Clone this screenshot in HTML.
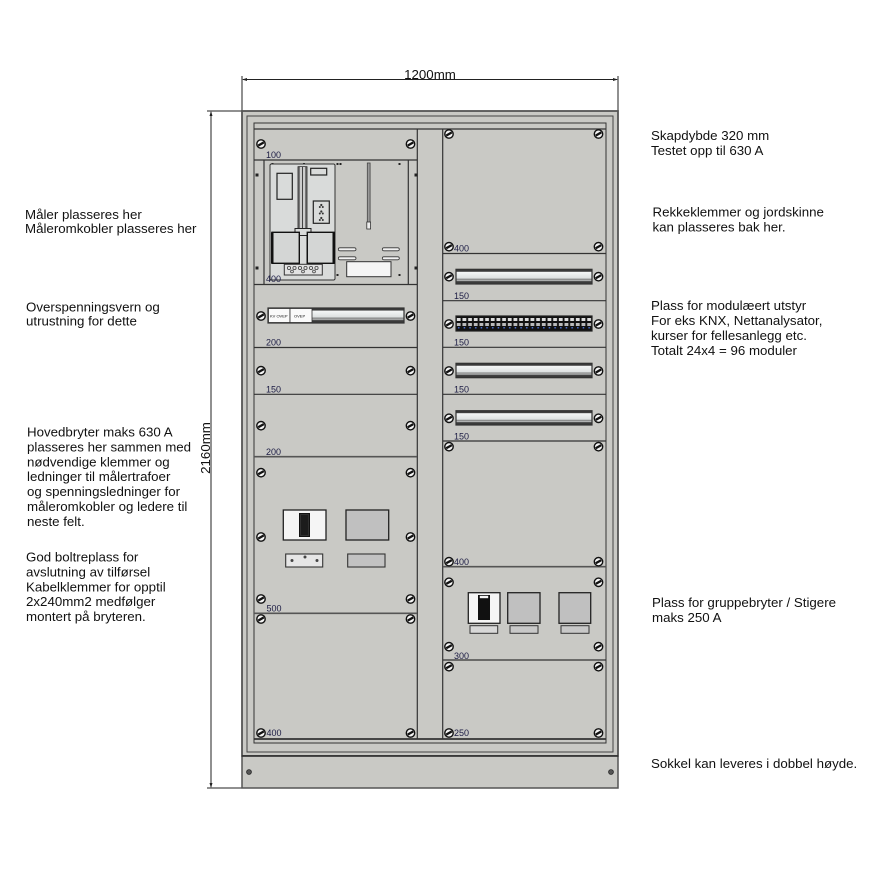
<!DOCTYPE html>
<html><head><meta charset="utf-8"><style>
html,body{margin:0;padding:0;background:#fff;}
svg{display:block;}
.t{font-family:"Liberation Sans",Arial,sans-serif;font-size:13.3px;fill:#111;}
.n{font-family:"Liberation Sans",Arial,sans-serif;font-size:9px;fill:#1c1c44;}
.ln{stroke:#333;stroke-width:1.2;fill:none;}
</style></head><body>
<svg width="875" height="875" viewBox="0 0 875 875" xmlns="http://www.w3.org/2000/svg">
<defs>
  <g id="sc">
    <circle cx="0" cy="0" r="4.2" fill="#f4f4f4" stroke="#111" stroke-width="1.4"/>
    <line x1="-2.8" y1="1.6" x2="2.8" y2="-1.6" stroke="#111" stroke-width="2.3"/>
  </g>
  <linearGradient id="rail" x1="0" y1="0" x2="0" y2="1">
    <stop offset="0" stop-color="#3a3a3a"/>
    <stop offset="0.14" stop-color="#3a3a3a"/>
    <stop offset="0.2" stop-color="#f4f6f6"/>
    <stop offset="0.6" stop-color="#dde1e1"/>
    <stop offset="0.68" stop-color="#777"/>
    <stop offset="0.74" stop-color="#c9cccc"/>
    <stop offset="0.84" stop-color="#3a3a3a"/>
    <stop offset="1" stop-color="#3a3a3a"/>
  </linearGradient>
  <pattern id="term" x="456" y="316" width="5.67" height="15" patternUnits="userSpaceOnUse">
    <rect x="0" y="0" width="5.67" height="15" fill="#111"/>
    <rect x="0.8" y="2" width="3.8" height="3" fill="#ddd"/>
    <rect x="0.8" y="7" width="3.8" height="3" fill="#bbb"/>
    <rect x="2" y="11" width="1.5" height="1.5" fill="#4a6fd0"/>
  </pattern>
</defs>

<!-- dimension lines -->
<g stroke="#222" stroke-width="1">
  <line x1="242" y1="76" x2="242" y2="111"/>
  <line x1="618" y1="76" x2="618" y2="111"/>
  <line x1="243" y1="79.5" x2="617" y2="79.5"/>
  <line x1="207" y1="111" x2="242" y2="111"/>
  <line x1="207" y1="788" x2="242" y2="788"/>
  <line x1="211" y1="112" x2="211" y2="787"/>
</g>
<polygon points="242,79.5 247,78 247,81" fill="#222"/>
<polygon points="618,79.5 613,78 613,81" fill="#222"/>
<polygon points="211,111 209.5,116 212.5,116" fill="#222"/>
<polygon points="211,788 209.5,783 212.5,783" fill="#222"/>
<text class="t" x="430" y="79" text-anchor="middle">1200mm</text>
<text class="t" transform="translate(210,448) rotate(-90)" text-anchor="middle">2160mm</text>

<!-- cabinet body -->
<rect x="242" y="111" width="376" height="645" fill="#c9c9c5" stroke="#555" stroke-width="1.8"/>
<rect x="247" y="116" width="366" height="636" fill="#c9c9c5" stroke="#444" stroke-width="1"/>
<rect x="254" y="123" width="352" height="620" fill="#c9c9c5" stroke="#333" stroke-width="1"/>
<line class="ln" x1="254" y1="129" x2="606" y2="129"/>
<line x1="254" y1="739" x2="606" y2="739" stroke="#333" stroke-width="1.8"/>
<line class="ln" x1="417.3" y1="129" x2="417.3" y2="739"/>
<line class="ln" x1="442.7" y1="129" x2="442.7" y2="739"/>
<!-- plinth -->
<rect x="242" y="756" width="376" height="32" fill="#c9c9c5" stroke="#555" stroke-width="1.5"/>
<line x1="242" y1="756" x2="618" y2="756" stroke="#222" stroke-width="1.2"/>
<circle cx="249" cy="772" r="2.4" fill="#555" stroke="#222" stroke-width="0.8"/>
<circle cx="611" cy="772" r="2.4" fill="#555" stroke="#222" stroke-width="0.8"/>

<!-- left column dividers -->
<g class="ln">
  <line x1="254" y1="160" x2="417" y2="160"/>
  <line x1="254" y1="284.5" x2="417" y2="284.5"/>
  <line x1="254" y1="347.5" x2="417" y2="347.5"/>
  <line x1="254" y1="394.3" x2="417" y2="394.3"/>
  <line x1="254" y1="456.7" x2="417" y2="456.7" stroke="#555" stroke-width="1.6"/>
  <line x1="254" y1="613.3" x2="417" y2="613.3" stroke="#555" stroke-width="1.6"/>
</g>
<!-- right column dividers -->
<g class="ln">
  <line x1="443" y1="253.5" x2="606" y2="253.5"/>
  <line x1="443" y1="300.7" x2="606" y2="300.7"/>
  <line x1="443" y1="347.3" x2="606" y2="347.3"/>
  <line x1="443" y1="394.3" x2="606" y2="394.3"/>
  <line x1="443" y1="441" x2="606" y2="441"/>
  <line x1="443" y1="566.7" x2="606" y2="566.7" stroke="#555" stroke-width="1.6"/>
  <line x1="443" y1="660" x2="606" y2="660"/>
</g>

<!-- meter panel -->
<line class="ln" x1="264" y1="160" x2="264" y2="284.5" stroke-width="1"/>
<line class="ln" x1="408.3" y1="160" x2="408.3" y2="284.5" stroke-width="1"/>
<g fill="#222">
  <rect x="255.5" y="173.5" width="3" height="3"/>
  <rect x="255.5" y="266.5" width="3" height="3"/>
  <rect x="414.5" y="173.5" width="3" height="3"/>
  <rect x="414.5" y="266.5" width="3" height="3"/>
  <rect x="271.5" y="163" width="2" height="2"/>
  <rect x="303" y="163" width="2" height="2"/>
  <rect x="336.5" y="163" width="2" height="2"/>
  <rect x="339.5" y="163" width="2" height="2"/>
  <rect x="398.5" y="163" width="2" height="2"/>
  <rect x="336.5" y="274" width="2" height="2"/>
  <rect x="398.5" y="274" width="2" height="2"/>
</g>
<path d="M271,164 H334 L335,165 V279 L334,280 H271 L270,279 V165 Z" fill="#d9dbda" stroke="#333" stroke-width="1"/>
<rect x="277" y="173.3" width="15.3" height="26" fill="#d9dbda" stroke="#222" stroke-width="1.2"/>
<rect x="310.7" y="168.3" width="16" height="6.7" fill="#d9dbda" stroke="#222" stroke-width="1.2"/>
<rect x="298" y="166.7" width="9" height="62" fill="#777" stroke="#222" stroke-width="0.8"/>
<rect x="300" y="167" width="5" height="61" fill="#ccc"/>
<line x1="302.5" y1="167" x2="302.5" y2="228" stroke="#444" stroke-width="1"/>
<rect x="295" y="228.5" width="16" height="7" fill="#d9dbda" stroke="#222" stroke-width="1"/>
<rect x="299" y="235.5" width="8" height="29" fill="#d9dbda" stroke="#222" stroke-width="1"/>
<rect x="313.3" y="201" width="16" height="22.3" fill="#d9dbda" stroke="#222" stroke-width="1.2"/>
<g fill="#333">
  <circle cx="321.3" cy="205" r="1.1"/><circle cx="319.8" cy="207" r="1"/><circle cx="322.8" cy="207" r="1"/>
  <circle cx="321.3" cy="211.5" r="1.1"/><circle cx="319.8" cy="213.5" r="1"/><circle cx="322.8" cy="213.5" r="1"/>
  <circle cx="321.3" cy="218" r="1.1"/><circle cx="319.8" cy="220" r="1"/><circle cx="322.8" cy="220" r="1"/>
</g>
<rect x="272" y="232.3" width="27.3" height="31" fill="#d4d6d5" stroke="#111" stroke-width="1.4"/>
<rect x="271" y="232.3" width="2.5" height="31" fill="#111"/>
<rect x="307.3" y="232.3" width="26.7" height="31" fill="#d4d6d5" stroke="#111" stroke-width="1.4"/>
<rect x="332.5" y="232.3" width="2.5" height="31" fill="#111"/>
<rect x="284.3" y="264.3" width="38" height="10.7" fill="#e2e2e2" stroke="#333" stroke-width="1"/>
<g fill="none" stroke="#444" stroke-width="0.8">
  <circle cx="289" cy="268" r="1.6"/><circle cx="294.5" cy="268" r="1.6"/><circle cx="300" cy="268" r="1.6"/>
  <circle cx="305.5" cy="268" r="1.6"/><circle cx="311" cy="268" r="1.6"/><circle cx="316.5" cy="268" r="1.6"/>
  <circle cx="292" cy="271.5" r="1.4"/><circle cx="303" cy="271.5" r="1.4"/><circle cx="314" cy="271.5" r="1.4"/>
</g>
<rect x="367.3" y="163" width="2.8" height="65" fill="#999" stroke="#444" stroke-width="0.8"/>
<rect x="366.8" y="222" width="3.8" height="7" fill="#eee" stroke="#333" stroke-width="0.8"/>
<g fill="#f2f2f2" stroke="#333" stroke-width="0.8">
  <rect x="338.3" y="247.8" width="17.7" height="3" rx="1.5"/>
  <rect x="338.3" y="256.8" width="17.7" height="3" rx="1.5"/>
  <rect x="382.3" y="247.8" width="17" height="3" rx="1.5"/>
  <rect x="382.3" y="256.8" width="17" height="3" rx="1.5"/>
</g>
<rect x="346.7" y="261.7" width="44.3" height="15" fill="#f5f5f5" stroke="#333" stroke-width="1"/>

<!-- OVP rail -->
<rect x="268" y="308" width="136" height="15" fill="url(#rail)" stroke="#333" stroke-width="1.2"/>
<rect x="268.5" y="308.5" width="21.5" height="14" fill="#fafafa" stroke="#333" stroke-width="0.8"/>
<rect x="290" y="308.5" width="22" height="14" fill="#fafafa" stroke="#333" stroke-width="0.8"/>
<text x="270" y="317.5" font-family="Liberation Sans, sans-serif" font-size="4" fill="#111">KV OVEP</text>
<text x="294" y="317.5" font-family="Liberation Sans, sans-serif" font-size="4" fill="#111">OVEP</text>

<!-- right rails -->
<rect x="456" y="269.3" width="136" height="14.7" fill="url(#rail)" stroke="#333" stroke-width="1.2"/>
<rect x="456" y="316" width="136" height="15" fill="url(#term)" stroke="#222" stroke-width="1.2"/>
<rect x="456" y="363.3" width="136" height="14.4" fill="url(#rail)" stroke="#333" stroke-width="1.2"/>
<rect x="456" y="410.7" width="136" height="14.3" fill="url(#rail)" stroke="#333" stroke-width="1.2"/>

<!-- main switch (left) -->
<rect x="283.3" y="510" width="42.7" height="30" fill="#f5f5f5" stroke="#222" stroke-width="1.3"/>
<rect x="299" y="513" width="11" height="24" fill="#111"/>
<rect x="300.5" y="514.5" width="8" height="21" fill="#1c1c1c" stroke="#444" stroke-width="0.6"/>
<rect x="346" y="510" width="42.7" height="30" fill="#c0c0c0" stroke="#222" stroke-width="1.3"/>
<rect x="285.7" y="554" width="37" height="13" fill="#e6e6e6" stroke="#333" stroke-width="1.1"/>
<g fill="#444"><circle cx="292" cy="560.5" r="1.5"/><circle cx="305" cy="557" r="1.5"/><circle cx="317" cy="560.5" r="1.5"/></g>
<rect x="347.7" y="554" width="37.3" height="13" fill="#c2c2c2" stroke="#333" stroke-width="1.1"/>

<!-- group switch (right) -->
<rect x="468.3" y="592.7" width="31.7" height="30.6" fill="#f5f5f5" stroke="#222" stroke-width="1.3"/>
<rect x="478" y="595" width="12" height="25" fill="#111"/>
<rect x="479.5" y="595.5" width="9" height="3" fill="#f5f5f5" stroke="#111" stroke-width="0.6"/>
<rect x="470" y="625.7" width="27.7" height="7.6" fill="#d8d8d8" stroke="#333" stroke-width="1"/>
<rect x="507.7" y="592.7" width="32.3" height="30.6" fill="#c0c0c0" stroke="#222" stroke-width="1.3"/>
<rect x="510" y="625.7" width="28" height="7.6" fill="#c8c8c8" stroke="#333" stroke-width="1"/>
<rect x="559" y="592.7" width="31.7" height="30.6" fill="#c0c0c0" stroke="#222" stroke-width="1.3"/>
<rect x="561" y="625.7" width="28" height="7.6" fill="#c8c8c8" stroke="#333" stroke-width="1"/>

<!-- screws left -->
<use href="#sc" x="261" y="144"/><use href="#sc" x="410.5" y="144"/>
<use href="#sc" x="261" y="316"/><use href="#sc" x="410.5" y="316"/>
<use href="#sc" x="261" y="370.7"/><use href="#sc" x="410.5" y="370.7"/>
<use href="#sc" x="261" y="425.7"/><use href="#sc" x="410.5" y="425.7"/>
<use href="#sc" x="261" y="472.7"/><use href="#sc" x="410.5" y="472.7"/>
<use href="#sc" x="261" y="537"/><use href="#sc" x="410.5" y="537"/>
<use href="#sc" x="261" y="599"/><use href="#sc" x="410.5" y="599"/>
<use href="#sc" x="261" y="619"/><use href="#sc" x="410.5" y="619"/>
<use href="#sc" x="261" y="733"/><use href="#sc" x="410.5" y="733"/>
<!-- screws right -->
<use href="#sc" x="449" y="134"/><use href="#sc" x="598.5" y="134"/>
<use href="#sc" x="449" y="246.7"/><use href="#sc" x="598.5" y="246.7"/>
<use href="#sc" x="449" y="276.7"/><use href="#sc" x="598.5" y="276.7"/>
<use href="#sc" x="449" y="324"/><use href="#sc" x="598.5" y="324"/>
<use href="#sc" x="449" y="371"/><use href="#sc" x="598.5" y="371"/>
<use href="#sc" x="449" y="418.3"/><use href="#sc" x="598.5" y="418.3"/>
<use href="#sc" x="449" y="446.7"/><use href="#sc" x="598.5" y="446.7"/>
<use href="#sc" x="449" y="561.7"/><use href="#sc" x="598.5" y="561.7"/>
<use href="#sc" x="449" y="582.3"/><use href="#sc" x="598.5" y="582.3"/>
<use href="#sc" x="449" y="646.7"/><use href="#sc" x="598.5" y="646.7"/>
<use href="#sc" x="449" y="666.7"/><use href="#sc" x="598.5" y="666.7"/>
<use href="#sc" x="449" y="733"/><use href="#sc" x="598.5" y="733"/>

<!-- panel height labels -->
<text class="n" x="266" y="158">100</text>
<text class="n" x="266" y="282">400</text>
<text class="n" x="266" y="345.7">200</text>
<text class="n" x="266" y="392.5">150</text>
<text class="n" x="266" y="455">200</text>
<text class="n" x="266.5" y="611.5">500</text>
<text class="n" x="266.5" y="736">400</text>
<text class="n" x="454" y="251.5">400</text>
<text class="n" x="454" y="299">150</text>
<text class="n" x="454" y="345.7">150</text>
<text class="n" x="454" y="392.7">150</text>
<text class="n" x="454" y="439.3">150</text>
<text class="n" x="454" y="565">400</text>
<text class="n" x="454" y="659">300</text>
<text class="n" x="454" y="736">250</text>

<!-- left annotations -->
<text class="t" x="25" y="219">Måler plasseres her</text>
<text class="t" x="25" y="233">Måleromkobler plasseres her</text>
<text class="t" x="26" y="311.7">Overspenningsvern og</text>
<text class="t" x="26" y="325.7">utrustning for dette</text>
<text class="t" x="27" y="436.7">Hovedbryter maks 630 A</text>
<text class="t" x="27" y="451.5">plasseres her sammen med</text>
<text class="t" x="27" y="466.4">nødvendige klemmer og</text>
<text class="t" x="27" y="481.2">ledninger til målertrafoer</text>
<text class="t" x="27" y="496.1">og spenningsledninger for</text>
<text class="t" x="27" y="511">måleromkobler og ledere til</text>
<text class="t" x="27" y="525.8">neste felt.</text>
<text class="t" x="26" y="561.7">God boltreplass for</text>
<text class="t" x="26" y="576.5">avslutning av tilførsel</text>
<text class="t" x="26" y="591.4">Kabelklemmer for opptil</text>
<text class="t" x="26" y="606.2">2x240mm2 medfølger</text>
<text class="t" x="26" y="621">montert på bryteren.</text>

<!-- right annotations -->
<text class="t" x="651" y="140">Skapdybde 320 mm</text>
<text class="t" x="651" y="155">Testet opp til 630 A</text>
<text class="t" x="652.5" y="216.7">Rekkeklemmer og jordskinne</text>
<text class="t" x="652.5" y="231.7">kan plasseres bak her.</text>
<text class="t" x="651" y="310">Plass for modulæert utstyr</text>
<text class="t" x="651" y="325">For eks KNX, Nettanalysator,</text>
<text class="t" x="651" y="340">kurser for fellesanlegg etc.</text>
<text class="t" x="651" y="355">Totalt 24x4 = 96 moduler</text>
<text class="t" x="652" y="607">Plass for gruppebryter / Stigere</text>
<text class="t" x="652" y="622">maks 250 A</text>
<text class="t" x="651" y="768">Sokkel kan leveres i dobbel høyde.</text>
</svg>
</body></html>
